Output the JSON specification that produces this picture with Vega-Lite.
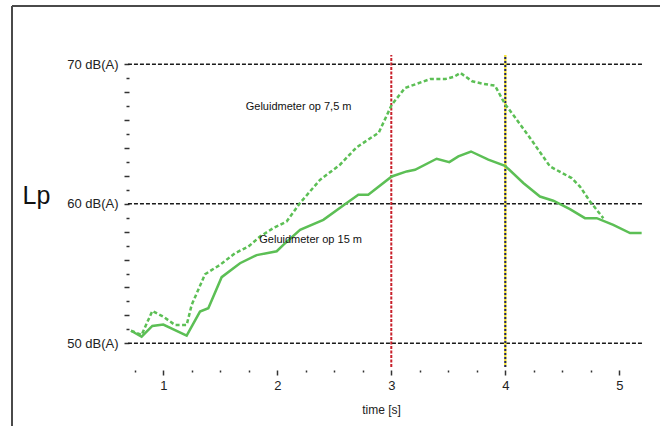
{
  "$schema": "https://vega.github.io/schema/vega-lite/v6.json",
  "width": 648,
  "height": 420,
  "autosize": "none",
  "padding": {"left": 12, "top": 6, "right": 0, "bottom": 0},
  "background": "white",
  "config": {"view": {"stroke": null}, "font": "Liberation Sans"},
  "datasets": {
    "far": [
      {"t": 0.717, "lp": 50.9}, {"t": 0.81, "lp": 50.47}, {"t": 0.904, "lp": 51.24}, {"t": 1.0, "lp": 51.34},
      {"t": 1.205, "lp": 50.55}, {"t": 1.322, "lp": 52.27}, {"t": 1.395, "lp": 52.51}, {"t": 1.512, "lp": 54.74},
      {"t": 1.673, "lp": 55.74}, {"t": 1.819, "lp": 56.32}, {"t": 1.995, "lp": 56.6}, {"t": 2.053, "lp": 57.06},
      {"t": 2.2, "lp": 58.13}, {"t": 2.404, "lp": 58.85}, {"t": 2.609, "lp": 60.05}, {"t": 2.711, "lp": 60.65},
      {"t": 2.798, "lp": 60.65}, {"t": 3.004, "lp": 61.96}, {"t": 3.135, "lp": 62.32}, {"t": 3.208, "lp": 62.44},
      {"t": 3.398, "lp": 63.23}, {"t": 3.509, "lp": 62.99}, {"t": 3.588, "lp": 63.4}, {"t": 3.699, "lp": 63.75},
      {"t": 3.851, "lp": 63.16}, {"t": 3.997, "lp": 62.73}, {"t": 4.158, "lp": 61.49}, {"t": 4.304, "lp": 60.52},
      {"t": 4.421, "lp": 60.22}, {"t": 4.567, "lp": 59.62}, {"t": 4.699, "lp": 58.97}, {"t": 4.802, "lp": 58.97},
      {"t": 4.947, "lp": 58.49}, {"t": 5.094, "lp": 57.9}, {"t": 5.196, "lp": 57.9}
    ],
    "near": [
      {"t": 0.717, "lp": 50.9}, {"t": 0.81, "lp": 50.6}, {"t": 0.904, "lp": 52.32}, {"t": 1.0, "lp": 51.91},
      {"t": 1.103, "lp": 51.31}, {"t": 1.205, "lp": 51.31}, {"t": 1.249, "lp": 52.75}, {"t": 1.366, "lp": 54.95},
      {"t": 1.497, "lp": 55.62}, {"t": 1.629, "lp": 56.46}, {"t": 1.746, "lp": 56.93}, {"t": 1.848, "lp": 57.65},
      {"t": 1.965, "lp": 58.26}, {"t": 2.082, "lp": 58.73}, {"t": 2.199, "lp": 60.05}, {"t": 2.375, "lp": 61.72},
      {"t": 2.55, "lp": 62.8}, {"t": 2.696, "lp": 64.05}, {"t": 2.89, "lp": 65.1}, {"t": 3.004, "lp": 67.1},
      {"t": 3.12, "lp": 68.3}, {"t": 3.344, "lp": 68.95}, {"t": 3.476, "lp": 68.95}, {"t": 3.55, "lp": 69.1},
      {"t": 3.606, "lp": 69.38}, {"t": 3.71, "lp": 68.78}, {"t": 3.8, "lp": 68.61}, {"t": 3.91, "lp": 68.47},
      {"t": 3.997, "lp": 67.15}, {"t": 4.085, "lp": 66.2}, {"t": 4.217, "lp": 64.72}, {"t": 4.392, "lp": 62.68},
      {"t": 4.582, "lp": 61.84}, {"t": 4.655, "lp": 61.24}, {"t": 4.743, "lp": 60.17}, {"t": 4.86, "lp": 58.97}
    ],
    "hlines": [
      {"t": 0.69, "t2": 5.2, "lp": 50}, {"t": 0.69, "t2": 5.2, "lp": 60}, {"t": 0.69, "t2": 5.2, "lp": 70}
    ],
    "redline": [{"t": 3, "lp": 48.3, "lp2": 70.66}],
    "yline": [{"t": 4, "lp": 48.3, "lp2": 70.66}],
    "frameLeft": [{"t": -0.327, "lp": 44.07, "lp2": 74.18}],
    "frameTop": [{"t": -0.327, "t2": 5.357, "lp": 74.18}],
    "labels": [
      {"t": 1.723, "lp": 66.91, "label": "Geluidmeter op 7,5 m"},
      {"t": 1.842, "lp": 57.44, "label": "Geluidmeter op 15 m"}
    ]
  },
  "encoding": {
    "x": {
      "field": "t", "type": "quantitative",
      "scale": {"domain": [-0.327, 5.357], "nice": false, "zero": false},
      "axis": {
        "title": "time [s]", "titleFont": "Liberation Sans", "titleFontSize": 12, "titleFontWeight": "normal", "titleColor": "#222222",
        "titleX": 369, "titleY": 43, "titleAlign": "center", "titleBaseline": "alphabetic", "titleAnchor": null,
        "offset": -56, "domain": false, "grid": false,
        "values": [0.75, 1, 1.25, 1.5, 1.75, 2, 2.25, 2.5, 2.75, 3, 3.25, 3.5, 3.75, 4, 4.25, 4.5, 4.75, 5],
        "labelExpr": "datum.value % 1 === 0 ? format(datum.value, 'd') : ''",
        "labelFontSize": 13, "labelColor": "#222222", "labelPadding": 4, "labelFlush": false,
        "tickColor": "#333333", "tickWidth": 1.5,
        "tickSize": {"condition": {"test": "datum.value % 1 === 0", "value": 5}, "value": 2}
      }
    },
    "y": {
      "field": "lp", "type": "quantitative",
      "scale": {"domain": [44.07, 74.18], "nice": false, "zero": false},
      "axis": {
        "title": "Lp", "titleFont": "Liberation Sans", "titleFontSize": 25, "titleFontWeight": "normal", "titleColor": "#111111",
        "titleAngle": 0, "titleX": -107, "titleY": 197, "titleAlign": "left", "titleBaseline": "alphabetic", "titleAnchor": null,
        "offset": -117, "domain": false, "grid": false,
        "values": [50, 51, 52, 53, 54, 55, 56, 57, 58, 59, 60, 61, 62, 63, 64, 65, 66, 67, 68, 69, 70],
        "labelExpr": "datum.value % 10 === 0 ? datum.value + ' dB(A)' : ''",
        "labelFontSize": 13, "labelColor": "#222222", "labelPadding": 6, "labelFlush": false,
        "tickColor": "#333333", "tickWidth": 1.5,
        "tickSize": {"condition": {"test": "datum.value % 2 === 0", "value": 5}, "value": 3}
      }
    }
  },
  "layer": [
    {
      "data": {"name": "frameLeft"},
      "mark": {"type": "rule", "color": "#4a4a4a", "strokeWidth": 2},
      "encoding": {"y2": {"field": "lp2"}}
    },
    {
      "data": {"name": "frameTop"},
      "mark": {"type": "rule", "color": "#4a4a4a", "strokeWidth": 2},
      "encoding": {"x2": {"field": "t2"}}
    },
    {
      "data": {"name": "hlines"},
      "mark": {"type": "rule", "color": "#1a1a1a", "strokeWidth": 1.6, "strokeDash": [4, 2]},
      "encoding": {"x2": {"field": "t2"}}
    },
    {
      "data": {"name": "redline"},
      "mark": {"type": "rule", "color": "#c8202a", "strokeWidth": 2, "strokeDash": [3, 1.5]},
      "encoding": {"y2": {"field": "lp2"}}
    },
    {
      "data": {"name": "yline"},
      "mark": {"type": "rule", "color": "#f2e23a", "strokeWidth": 2.4},
      "encoding": {"y2": {"field": "lp2"}}
    },
    {
      "data": {"name": "yline"},
      "mark": {"type": "rule", "color": "#1c1f6b", "strokeWidth": 2, "strokeDash": [2, 2]},
      "encoding": {"y2": {"field": "lp2"}}
    },
    {
      "data": {"name": "near"},
      "mark": {"type": "line", "color": "#5cbf55", "strokeWidth": 2.5, "strokeDash": [4, 2.5]},
      "encoding": {"order": {"field": "t", "type": "quantitative"}}
    },
    {
      "data": {"name": "far"},
      "mark": {"type": "line", "color": "#5cbf55", "strokeWidth": 2.5},
      "encoding": {"order": {"field": "t", "type": "quantitative"}}
    },
    {
      "data": {"name": "labels"},
      "mark": {"type": "text", "align": "left", "baseline": "middle", "fontSize": 11, "color": "#111111", "font": "Liberation Sans"},
      "encoding": {"text": {"field": "label"}}
    }
  ]
}
